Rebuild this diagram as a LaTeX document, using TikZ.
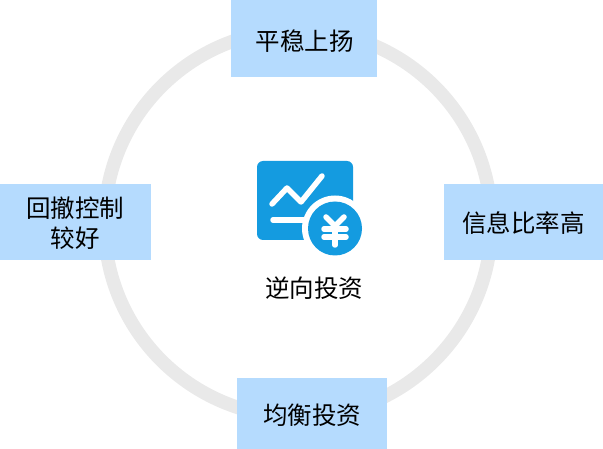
\documentclass[tikz,border=0pt]{standalone}
\usepackage{fontspec}
\newfontfamily\cjk{Noto Sans CJK SC}
\definecolor{boxblue}{HTML}{B5DBFE}
\definecolor{ringgray}{HTML}{E9E9E9}
\definecolor{iconblue}{HTML}{149BE0}
\tikzset{
  lbl/.style={font=\cjk\fontsize{24.5}{30}\selectfont,text=black,align=center,inner sep=0pt},
  tag/.style={fill=boxblue,draw=none,inner sep=0pt,minimum width=#1,minimum height=76pt,lbl},
  glyph/.style={draw=white,line width=5.5pt,line cap=round,line join=round}
}
\begin{document}
\begin{tikzpicture}[x=1pt,y=-1pt]
\useasboundingbox (0,0) rectangle (603,449);
\draw[ringgray,line width=13.5pt] (298,223.5) circle[radius=193.5];
\node[tag=146pt,anchor=north west,minimum height=77pt] (top) at (231,0) {};
\node[lbl] (toplabel) at (304.5,41) {平稳上扬};
\node[tag=151pt,anchor=north west] (left) at (0,184) {};
\node[lbl] (leftlabel) at (75.5,223) {回撤控制\\较好};
\node[tag=159pt,anchor=north west] (right) at (444,184) {};
\node[lbl] (rightlabel) at (523.5,223) {信息比率高};
\node[tag=150pt,anchor=north west,minimum height=71pt] (bottom) at (237,378) {};
\node[lbl] (bottomlabel) at (312,415) {均衡投资};
% icon
\fill[iconblue,rounded corners=6pt] (257,161) rectangle (353,240);
\draw[glyph] (272,204) -- (287,188) -- (301,202) -- (322,176);
\draw[glyph] (273,220) -- (312,220);
\fill[white] (335,228.5) circle[radius=33];
\fill[iconblue] (335,228.5) circle[radius=27];
\draw[glyph] (326,217) -- (335,226) -- (344,217);
\draw[glyph] (335,226) -- (335,245);
\draw[glyph] (324,229) -- (346,229);
\draw[glyph] (324,237) -- (346,237);
\node[lbl,anchor=center] (title) at (314,288) {逆向投资};
\end{tikzpicture}
\end{document}
